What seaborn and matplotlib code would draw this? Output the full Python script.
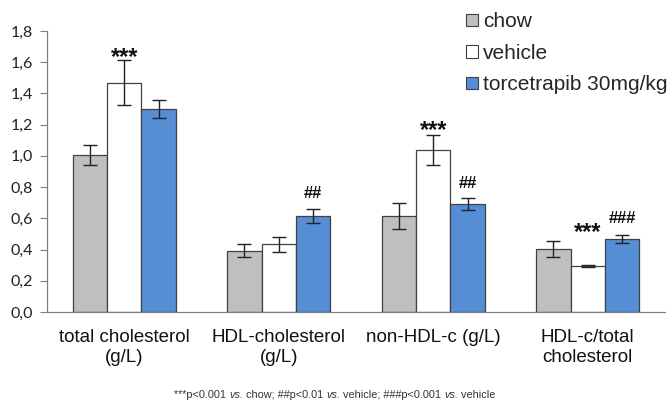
import matplotlib
matplotlib.use("Agg")
import matplotlib.pyplot as plt
import seaborn as sns
import pandas as pd
import numpy as np

categories = ["total cholesterol\n(g/L)", "HDL-cholesterol\n(g/L)", "non-HDL-c (g/L)", "HDL-c/total\ncholesterol"]
groups = ["chow", "vehicle", "torcetrapib 30mg/kg"]
chow = [1.005, 0.393, 0.615, 0.405]
vehicle = [1.470, 0.433, 1.038, 0.295]
torcetrapib = [1.303, 0.613, 0.692, 0.470]
chow_err = [0.062, 0.041, 0.082, 0.050]
vehicle_err = [0.145, 0.050, 0.097, 0.007]
torcetrapib_err = [0.058, 0.045, 0.040, 0.025]
# significance marks: (category index, group index, label, height)
marks = [(0, 1, "***", 1.63), (1, 2, "##", 0.76), (2, 1, "***", 1.16),
         (2, 2, "##", 0.82), (3, 1, "***", 0.51), (3, 2, "###", 0.60)]
footnote_parts = ["***p<0.001 ", "vs.", " chow; ##p<0.01 ", "vs.", " vehicle; ###p<0.001 ", "vs.", " vehicle"]

colors = ["#BFBFBF", "#FFFFFF", "#558ED5"]

df = pd.DataFrame({
    "category": np.repeat(categories, 3),
    "group": groups * len(categories),
    "value": np.ravel(np.column_stack([chow, vehicle, torcetrapib])),
    "err": np.ravel(np.column_stack([chow_err, vehicle_err, torcetrapib_err])),
})

sns.set_style("white")
fig = plt.figure(figsize=(6.7, 4.07), dpi=100)
ax = fig.add_axes([47 / 670, 1 - 312 / 407, 618 / 670, 281 / 407])

sns.barplot(data=df, x="category", y="value", hue="group", order=categories,
            hue_order=groups, palette=colors, saturation=1, width=0.667, gap=0,
            errorbar=None, edgecolor="#404040", linewidth=0.9, ax=ax, legend=True)

# error bars at the centre of each drawn bar
bars = ax.patches[:len(df)]
for gi, g in enumerate(groups):
    for ci, c in enumerate(categories):
        p = bars[gi * len(categories) + ci]
        row = df[(df.category == c) & (df.group == g)].iloc[0]
        xc = p.get_x() + p.get_width() / 2
        ax.errorbar(xc, row.value, yerr=row.err, fmt="none", ecolor="#222222",
                    elinewidth=1.0, capsize=5, capthick=1.0, zorder=5)

for ci, gi, label, h in marks:
    p = bars[gi * len(categories) + ci]
    xc = p.get_x() + p.get_width() / 2
    ax.text(xc, h, label, ha="center", va="center",
            fontsize=17 if "*" in label else 12, fontweight="bold",
            family="Liberation Sans", color="#111111")

ax.set_xlim(-0.5, 3.5)
ax.set_ylim(0, 1.8)
ax.set_yticks(np.arange(0, 1.81, 0.2))
ax.set_yticklabels([f"{v:.1f}".replace(".", ",") for v in np.arange(0, 1.81, 0.2)],
                   family="Lato", fontsize=11.5, color="#222222")
ax.set_xticks(range(len(categories)))
ax.set_xticklabels(categories, family="Liberation Sans", fontsize=13.5,
                   linespacing=1.25, color="#111111")
ax.set_xticks(np.arange(-0.5, 3.6, 1), minor=True)
ax.tick_params(axis="x", which="major", length=0, pad=12)
ax.tick_params(axis="x", which="minor", length=5, width=0.8, color="#808080", direction="out")
ax.tick_params(axis="y", length=5, width=0.8, color="#808080", direction="out", left=True, pad=5)
ax.set_xlabel("")
ax.set_ylabel("")
for s in ["top", "right"]:
    ax.spines[s].set_visible(False)
for s in ["left", "bottom"]:
    ax.spines[s].set_color("#808080")
    ax.spines[s].set_linewidth(0.9)

leg = ax.legend(loc="upper left", bbox_to_anchor=(462 / 670, 1 - 8 / 407),
                bbox_transform=fig.transFigure, frameon=False,
                prop={"family": "Liberation Sans", "size": 15},
                handlelength=0.55, handleheight=0.55, handletextpad=0.25,
                labelspacing=0.6, borderaxespad=0, borderpad=0.2)
for h in leg.legend_handles:
    h.set_linewidth(0.8)

# footnote with italic "vs."
renderer = fig.canvas.get_renderer()
widths = []
tmp = []
for part in footnote_parts:
    t = fig.text(0, 0, part, fontsize=7.8, family="Liberation Sans", color="#333333",
                 style="italic" if part == "vs." else "normal")
    tmp.append(t)
    widths.append(t.get_window_extent(renderer).width / fig.bbox.width)
x = 335 / 670 - sum(widths) / 2
for t, w in zip(tmp, widths):
    t.set_position((x, 1 - 395 / 407))
    t.set_va("center")
    x += w

fig.savefig("out.png", dpi=100)
